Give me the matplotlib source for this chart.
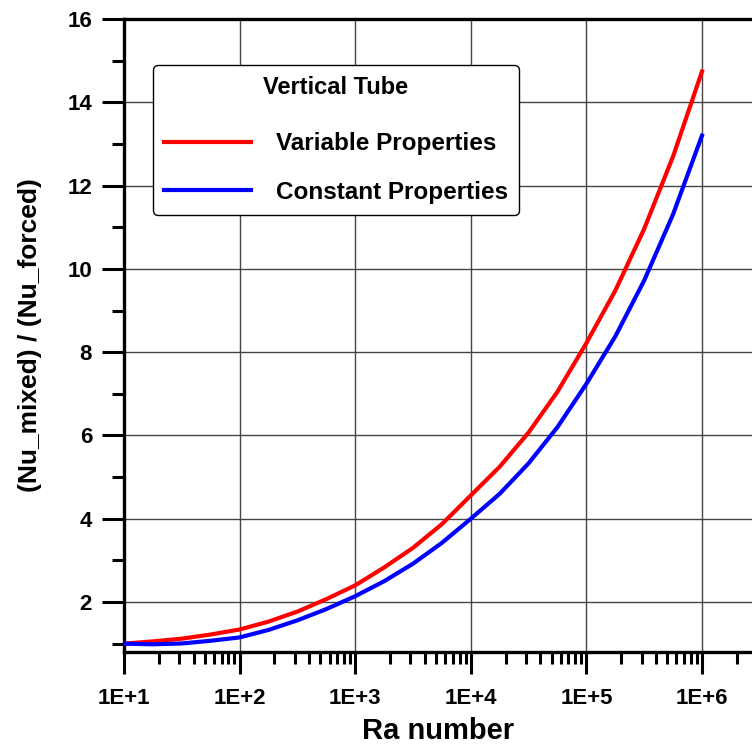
import numpy as np
import matplotlib
matplotlib.use("Agg")
import matplotlib.pyplot as plt
from matplotlib.ticker import FixedLocator, NullFormatter

# ------------------------------------------------------
# Data (Ra on log scale, quarter decades)
# ------------------------------------------------------
ra = [1e1, 1.78e1, 3.16e1, 5.62e1, 1e2, 1.78e2, 3.16e2, 5.62e2,
      1e3, 1.78e3, 3.16e3, 5.62e3, 1e4, 1.78e4, 3.16e4, 5.62e4,
      1e5, 1.78e5, 3.16e5, 5.62e5, 1e6]
nu_variable = [1.00, 1.055, 1.12, 1.22, 1.34, 1.53, 1.77, 2.07,
               2.40, 2.83, 3.30, 3.87, 4.56, 5.25, 6.07, 7.05,
               8.22, 9.48, 10.96, 12.70, 14.74]
nu_constant = [1.00, 0.985, 1.005, 1.07, 1.15, 1.33, 1.56, 1.83,
               2.14, 2.50, 2.92, 3.42, 4.00, 4.60, 5.33, 6.20,
               7.24, 8.38, 9.72, 11.31, 13.20]

x_ticks = [1e1, 1e2, 1e3, 1e4, 1e5, 1e6]
x_tick_labels = ["1E+1", "1E+2", "1E+3", "1E+4", "1E+5", "1E+6"]
y_ticks = [2, 4, 6, 8, 10, 12, 14, 16]
y_minor = [1, 3, 5, 7, 9, 11, 13, 15]

plt.rcParams['font.family'] = ['Liberation Sans', 'DejaVu Sans']
plt.rcParams['font.weight'] = 'bold'

fig = plt.figure(figsize=(7.52, 7.49), dpi=100)
ax = fig.add_axes([124 / 752, 97 / 749, 1 - 124 / 752, (652 - 19) / 749])

ax.plot(ra, nu_variable, color="red", lw=3.0, label="Variable Properties", zorder=3)
ax.plot(ra, nu_constant, color="blue", lw=3.0, label="Constant Properties", zorder=3)

ax.set_xscale("log")
ax.set_xlim(1e1, 10 ** (6 + 50 / 115.6))
ax.set_ylim(0.8, 16)

ax.xaxis.set_major_locator(FixedLocator(x_ticks))
ax.set_xticklabels(x_tick_labels)
minor = [m * 10 ** e for e in range(1, 7) for m in range(2, 10)]
ax.xaxis.set_minor_locator(FixedLocator(minor))
ax.xaxis.set_minor_formatter(NullFormatter())
ax.yaxis.set_major_locator(FixedLocator(y_ticks))
ax.yaxis.set_minor_locator(FixedLocator(y_minor))

ax.tick_params(which="major", length=16, width=2.2, direction="out",
               labelsize=16, pad=10)
ax.tick_params(which="minor", length=8.5, width=2.2, direction="out")
ax.tick_params(axis="y", which="major", pad=7)
for lab in ax.get_xticklabels() + ax.get_yticklabels():
    lab.set_fontweight("bold")

ax.grid(True, which="major", color="#444444", lw=1.0)

ax.spines["right"].set_visible(False)
for s in ["left", "bottom", "top"]:
    ax.spines[s].set_linewidth(2.4)

ax.set_xlabel("Ra number", fontsize=21, fontweight="bold", labelpad=6)
ax.set_ylabel("(Nu_mixed) / (Nu_forced)", fontsize=19, fontweight="bold", labelpad=18)

leg = ax.legend(loc="upper left", bbox_to_anchor=(29 / 628, 1 - 46 / 633),
                borderaxespad=0,
                title="Vertical Tube", title_fontproperties={"size": 17, "weight": "bold"},
                prop={"size": 17.5, "weight": "bold"}, frameon=True, fancybox=True,
                edgecolor="black", framealpha=1, handlelength=3.6,
                labelspacing=1.05, borderpad=0.45, handletextpad=1.0)
leg.get_frame().set_linewidth(1.0)
leg._legend_box.sep = 24

fig.savefig("out.png", dpi=100)
